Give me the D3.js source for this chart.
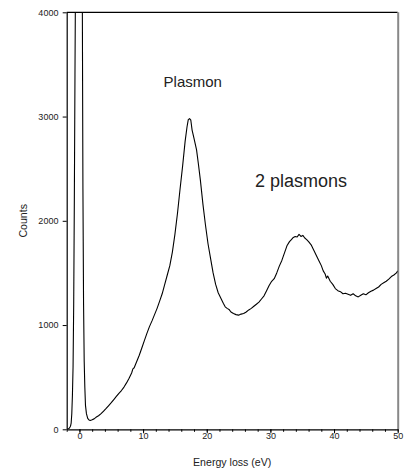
<!DOCTYPE html>
<html>
<head>
<meta charset="utf-8">
<script src="https://cdn.jsdelivr.net/npm/d3@7"></script>
<style>
  body { margin: 0; background: #fff; }
  text { font-family: "Liberation Sans", Arial, sans-serif; fill: #222; }
</style>
</head>
<body>
<div id="chart-container"></div>
<script>
// spectrum (eV, counts); zero-loss peak goes far off the top
var energy = [-2.0, -1.8, -1.6, -1.4, -1.3, -1.2, -1.1, -1.0, -0.9, -0.8, -0.7, -0.6, -0.3, 0.0, 0.3,
    0.45, 0.55, 0.65, 0.75, 0.85, 0.95, 1.1, 1.3, 1.5, 1.7, 2.0, 2.3, 2.6, 3.0, 3.4, 3.8, 4.2, 4.6,
    5.0, 5.4, 5.8, 6.2, 6.6, 7.0, 7.4, 7.8, 8.2, 8.4, 8.6, 9.0, 9.4, 9.8, 10.2, 10.6, 11.0, 11.4,
    11.8, 12.2, 12.6, 13.0, 13.4, 13.8, 14.2, 14.6, 15.0, 15.4, 15.8, 16.2, 16.6, 16.9, 17.1, 17.3,
    17.5, 17.7, 18.0, 18.4, 18.7, 19.0, 19.4, 19.8, 20.2, 20.6, 21.0, 21.4, 21.8, 22.2, 22.6, 22.9,
    23.2, 23.5, 23.8, 24.2, 24.6, 25.0, 25.4, 25.8, 26.2, 26.6, 27.0, 27.4, 27.8, 28.2, 28.6, 29.0,
    29.4, 29.8, 30.2, 30.6, 31.0, 31.4, 31.8, 32.2, 32.6, 33.0, 33.3, 33.6, 33.9, 34.2, 34.5, 34.8,
    35.1, 35.4, 35.7, 36.0, 36.4, 36.8, 37.2, 37.6, 38.0, 38.3, 38.6, 38.8, 39.0, 39.4, 39.8, 40.2,
    40.6, 41.0, 41.4, 41.8, 42.2, 42.6, 43.0, 43.4, 43.8, 44.2, 44.6, 45.0, 45.4, 45.8, 46.2, 46.6,
    47.0, 47.4, 47.8, 48.2, 48.6, 49.0, 49.4, 49.8, 50.0];

var counts = [0, 2, 10, 30, 60, 150, 330, 600, 1200, 2200, 3400, 4500, 12000, 20000, 9000,
    4200, 2300, 1200, 650, 400, 230, 150, 105, 90, 85, 92, 100, 115, 130, 150, 175, 200, 228,
    255, 285, 315, 345, 372, 405, 445, 490, 540, 580, 590, 650, 710, 780, 850, 920, 985, 1040,
    1100, 1160, 1230, 1300, 1390, 1480, 1570, 1700, 1870, 2070, 2300, 2520, 2760, 2900, 2970, 2980,
    2965, 2870, 2790, 2680, 2540, 2390, 2160, 1960, 1780, 1640, 1500, 1390, 1310, 1260, 1210, 1175,
    1160, 1150, 1125, 1110, 1100, 1095, 1105, 1110, 1125, 1145, 1160, 1180, 1200, 1220, 1250, 1280,
    1330, 1380, 1420, 1445, 1500, 1565, 1620, 1690, 1760, 1800, 1820, 1840, 1850, 1845, 1870, 1850,
    1860, 1835, 1820, 1800, 1770, 1720, 1670, 1620, 1570, 1520, 1490, 1450, 1470, 1420, 1390, 1350,
    1330, 1320, 1300, 1305, 1295, 1285, 1300, 1280, 1270, 1285, 1300, 1290, 1310, 1325, 1335, 1350,
    1365, 1390, 1405, 1420, 1440, 1465, 1480, 1500, 1520];

var xTicks = [0, 10, 20, 30, 40, 50];
var xMinorTicks = d3.range(-2, 51, 2);
var yTicks = [0, 1000, 2000, 3000, 4000];

var labels = [
    {text: 'Plasmon', x: 17.8, y: 3280, size: 15},
    {text: '2 plasmons', x: 34.8, y: 2322, size: 18}
];

var margins = {top: 12.3, bottom: 40.7, left: 66.7, right: 6.3};
var dimensions = {
    width: 404 - margins.left - margins.right,
    height: 470 - margins.top - margins.bottom
};

var x = d3.scaleLinear().domain([-2, 50]).range([0, dimensions.width]);
var y = d3.scaleLinear().domain([0, 4000]).range([dimensions.height, 0]);

var svg = d3.select('#chart-container')
    .append('svg')
        .attr('width', 404)
        .attr('height', 470);

var chart = svg.append('g')
    .attr('transform', 'translate(' + margins.left + ',' + margins.top + ')');

chart.append('clipPath').attr('id', 'plot-clip')
    .append('rect')
        .attr('width', dimensions.width)
        .attr('height', dimensions.height);

// frame: black top, grey right
chart.append('line')
    .attr('x1', 0).attr('x2', dimensions.width)
    .attr('y1', 0).attr('y2', 0)
    .attr('stroke', '#000').attr('stroke-width', 1.2);
chart.append('line')
    .attr('x1', dimensions.width + 0.5).attr('x2', dimensions.width + 0.5)
    .attr('y1', 0).attr('y2', dimensions.height)
    .attr('stroke', '#888').attr('stroke-width', 2);

var line = d3.line()
    .x(function (d, i) { return x(energy[i]); })
    .y(function (d) { return y(d); });

chart.append('path')
    .datum(counts)
    .attr('clip-path', 'url(#plot-clip)')
    .attr('d', line)
    .attr('fill', 'none')
    .attr('stroke', '#000')
    .attr('stroke-width', 1.1)
    .attr('stroke-linejoin', 'round');

// minor x ticks
chart.append('g')
    .attr('transform', 'translate(0,' + dimensions.height + ')')
    .call(d3.axisBottom(x).tickValues(xMinorTicks).tickSize(2.5).tickFormat(''))
    .call(function (g) { g.select('.domain').remove(); });

var xAxis = chart.append('g')
    .attr('transform', 'translate(0,' + dimensions.height + ')')
    .call(d3.axisBottom(x).tickValues(xTicks).tickSize(4).tickSizeOuter(0));
xAxis.selectAll('text').attr('y', 3.5).attr('font-size', 9);

var yAxis = chart.append('g')
    .call(d3.axisLeft(y).tickValues(yTicks).tickFormat(d3.format('d'))
        .tickSize(4).tickPadding(4.3).tickSizeOuter(0));
yAxis.selectAll('text').attr('font-size', 9);

chart.selectAll('.domain').attr('stroke-width', 1.2);

chart.append('text')
    .attr('x', dimensions.width / 2)
    .attr('y', dimensions.height + 37)
    .attr('text-anchor', 'middle')
    .attr('font-size', 10.6)
    .text('Energy loss (eV)');

chart.append('text')
    .attr('transform', 'translate(' + (27 - margins.left) + ',' + (dimensions.height / 2) + ') rotate(-90)')
    .attr('text-anchor', 'middle')
    .attr('font-size', 10.6)
    .text('Counts');

chart.selectAll('.peak-label')
    .data(labels)
    .enter().append('text')
        .attr('class', 'peak-label')
        .attr('x', function (d) { return x(d.x); })
        .attr('y', function (d) { return y(d.y); })
        .attr('text-anchor', 'middle')
        .attr('font-size', function (d) { return d.size; })
        .text(function (d) { return d.text; });
</script>
</body>
</html>
